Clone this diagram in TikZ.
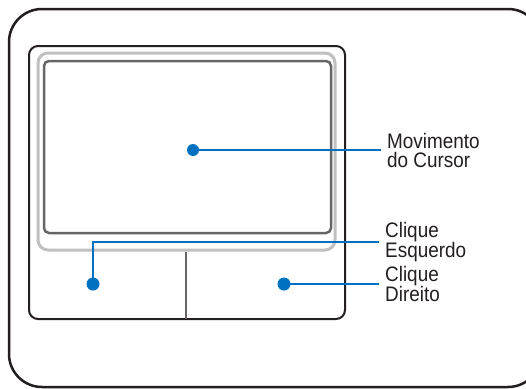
\documentclass[tikz,border=0pt]{standalone}
\usepackage{fontspec}
\setmainfont{Liberation Sans}
\newfontfamily\capfont[FakeStretch=0.9]{Liberation Sans}
\usetikzlibrary{positioning}

\definecolor{padblue}{RGB}{0,112,192}
\definecolor{padlight}{RGB}{192,192,192}
\definecolor{paddark}{RGB}{102,102,102}
\definecolor{padblack}{RGB}{35,31,32}

\tikzset{
  dot/.style={circle,fill=padblue,inner sep=0pt,minimum size=12pt},
  lead/.style={draw=padblue,line width=2pt},
  caption/.style={anchor=west,align=left,inner xsep=6pt,inner ysep=0pt,
    font=\capfont\fontsize{21}{19}\selectfont,text=padblack}
}

\begin{document}
\begin{tikzpicture}[x=1pt,y=-1pt]
  \useasboundingbox (0,0) rectangle (526,388);
  \clip (0,0) rectangle (526,388);
  \fill[white] (0,0) rectangle (526,388);

  % frames
  \draw[padblack,line width=2.5pt,rounded corners=33pt] (9,9) rectangle (541,387);
  \draw[padblack,line width=2pt,rounded corners=9pt] (29,46) rectangle (345,319);
  \draw[padlight,line width=3pt,rounded corners=10pt] (38,53) rectangle (335,250);
  \draw[paddark,line width=2.5pt,rounded corners=5pt] (44,61) rectangle (331,233);
  \draw[paddark,line width=1.5pt] (186,252) -- (186,319);

  % dots
  \node[dot] (cursor) at (193,150) {};
  \node[dot,minimum height=13pt] (left) at (93,284) {};
  \node[dot,minimum height=13pt] (right) at (284,284) {};

  % labels
  \node[caption] (cursorlbl) at (381,150) {Movimento\\do Cursor};
  \node[caption] (leftlbl) at (379,242) {Clique\\Esquerdo};
  \node[caption] (rightlbl) at (379,284) {Clique\\Direito};

  % leads
  \draw[lead] (cursor.center) -- (cursorlbl.west);
  \draw[lead] (left.center) |- (leftlbl.west);
  \draw[lead] (right.center) -- (rightlbl.west);
\end{tikzpicture}
\end{document}
